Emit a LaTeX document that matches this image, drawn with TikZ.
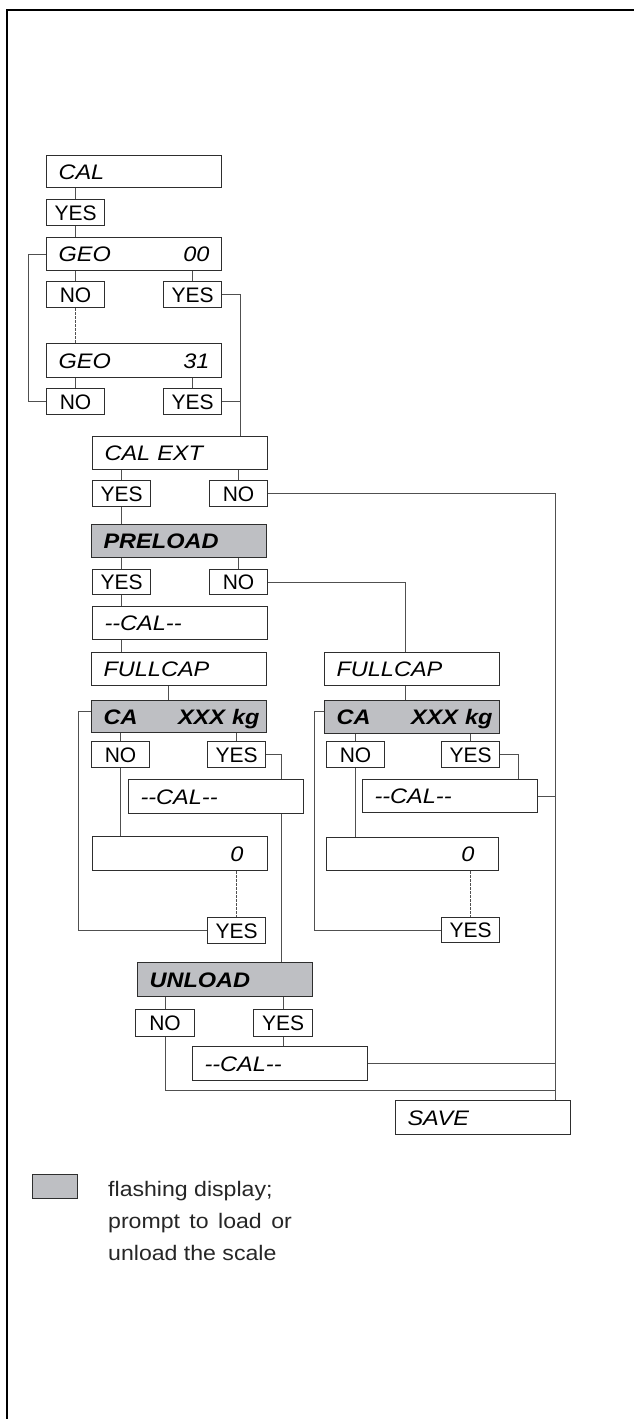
\documentclass[tikz,border=0pt]{standalone}
\usepackage{fontspec}
\setmainfont{Liberation Sans}
\newfontfamily\itfont[FakeStretch=1.12]{Liberation Sans}
\newfontfamily\legfont[FakeStretch=1.1]{Liberation Sans}
\usetikzlibrary{calc}
\definecolor{flashgray}{HTML}{BEBFC3}
\definecolor{edge}{HTML}{2E2E2E}
\definecolor{wirecol}{HTML}{505050}
\tikzset{
  disp/.style={draw=edge, line width=1.1pt, anchor=north west, inner xsep=12pt, inner ysep=0pt,
    text width=151pt, minimum height=33pt, text height=15pt, text depth=0pt, align=left,
    font=\itfont\itshape\fontsize{21}{21}\selectfont},
  flashdisp/.style={disp, fill=flashgray, font=\itfont\bfseries\itshape\fontsize{21}{21}\selectfont},
  key/.style={draw=edge, line width=1.1pt, anchor=north west, inner sep=0pt, minimum width=58pt,
    minimum height=26pt, text height=15pt, text depth=0pt, font=\fontsize{21}{21}\selectfont},
  wire/.style={draw=wirecol, line width=1pt},
  dotwire/.style={wire, dash pattern=on 2.5pt off 1.5pt},
  legtext/.style={anchor=base west, inner sep=0pt, font=\legfont\fontsize{21}{21}\selectfont, text=black!85},
}
\begin{document}
\begin{tikzpicture}[x=1pt,y=-1pt]
\useasboundingbox (0,0) rectangle (634,1419);
\fill[white] (0,0) rectangle (634,1419);
\draw[line width=2pt, black] (7,1419) -- (7,9.5) -- (634,9.5);

% left column
\node[disp, minimum height=32pt] (cal) at (46,155) {CAL};
\node[key] (yA) at (46,199) {YES};
\node[disp] (geoA) at (46,237) {GEO\hfill 00};
\node[key] (nA) at (46,281) {NO};
\node[key] (yB) at (163,281) {YES};
\node[disp, minimum height=34pt] (geoB) at (46,343) {GEO\hfill 31};
\node[key] (nB) at (46,388) {NO};
\node[key] (yC) at (163,388) {YES};
\node[disp] (calext) at (92,436) {CAL EXT};
\node[key] (yD) at (92,480) {YES};
\node[key] (nD) at (209,480) {NO};
\node[flashdisp] (pre) at (91,524) {PRELOAD};
\node[key, minimum height=25pt] (yE) at (92,569) {YES};
\node[key, minimum height=25pt] (nE) at (209,569) {NO};
\node[disp] (calA) at (92,606) {-{}-CAL-{}-};
\node[disp] (fullA) at (91,652) {FULLCAP};
\node[flashdisp, minimum height=32pt] (caA) at (91,700) {CA\hfill XXX kg\hspace*{-5pt}\null};
\node[key] (nF) at (91,741) {NO};
\node[key] (yF) at (207,741) {YES};
\node[disp, minimum height=34pt] (calB) at (128,779) {-{}-CAL-{}-};
\node[disp, minimum height=34pt] (zeroA) at (92,836) {\hfill 0\hspace*{12pt}\null};
\node[key] (yG) at (207,917) {YES};
\node[flashdisp, minimum height=34pt] (unl) at (137,962) {UNLOAD};
\node[key, minimum width=59pt, minimum height=27pt] (nH) at (135,1009) {NO};
\node[key, minimum width=59pt, minimum height=27pt] (yH) at (253,1009) {YES};
\node[disp, minimum height=34pt] (calC) at (192,1046) {-{}-CAL-{}-};
\node[disp, minimum height=34pt] (save) at (395,1100) {SAVE};

% right column
\node[disp] (fullB) at (324,652) {FULLCAP};
\node[flashdisp] (caB) at (324,700) {CA\hfill XXX kg\hspace*{-5pt}\null};
\node[key] (nI) at (326,741) {NO};
\node[key] (yI) at (441,741) {YES};
\node[disp] (calD) at (362,779) {-{}-CAL-{}-};
\node[disp, text width=148pt] (zeroB) at (326,837) {\hfill 0\hspace*{12pt}\null};
\node[key, minimum height=25pt] (yJ) at (441,917) {YES};

% connectors
\draw[wire] (cal.south -| yA) -- (yA.north);
\draw[wire] (yA.south) -- (yA.south |- geoA.north);
\draw[wire] (nA.north) -- (nA.north |- geoA.south);
\draw[wire] (yB.north) -- (yB.north |- geoA.south);
\draw[dotwire] (nA.south) -- (nA.south |- geoB.north);
\draw[wire] (nB.north) -- (nB.north |- geoB.south);
\draw[wire] (yC.north) -- (yC.north |- geoB.south);
\draw[wire] (geoA.west) -- ++(-18,0) |- (nB.west);
\draw[wire] (yB.east) -- ++(18,0) coordinate (j1) -- (j1 |- calext.north);
\draw[wire] (yC.east) -- (yC.east -| j1);

\draw[wire] (calext.south -| yD) -- (yD.north);
\draw[wire] (calext.south -| nD) -- (nD.north);
\draw[wire] (nD.east) -- ++(287,0) coordinate (rail) -- (rail |- save.north);
\draw[wire] (yD.south) -- (yD.south |- pre.north);
\draw[wire] (pre.south -| yE) -- (yE.north);
\draw[wire] (pre.south -| nE) -- (nE.north);
\coordinate (fb) at ($(fullB.north west)+(81,0)$);
\draw[wire] (nE.east) -| (fb);
\draw[wire] (yE.south) -- (yE.south |- calA.north);
\draw[wire] (calA.south -| yE) -- (yE |- fullA.north);
\draw[wire] ($(fullA.south west)+(77,0)$) -- ($(caA.north west)+(77,0)$);
\draw[wire] (caA.south -| nF) -- (nF.north);
\draw[wire] (caA.south -| yF) -- (yF.north);
\draw[wire] ($(caA.north west)+(0,11)$) -- ++(-13,0) |- (yG.west);
\draw[wire] (yF.east) -- ++(15,0) coordinate (j2) -- (j2 |- calB.north);
\draw[wire] (calB.south -| j2) -- (j2 |- unl.north);
\draw[wire] (nF.south) -- (nF.south |- zeroA.north);
\draw[dotwire] (zeroA.south -| yG) -- (yG.north);

\draw[wire] (unl.south -| nH) -- (nH.north);
\draw[wire] (unl.south -| yH) -- (yH.north);
\draw[wire] (yH.south) -- (yH.south |- calC.north);
\draw[wire] (calC.east) -- (calC.east -| rail);
\draw[wire] (nH.south) -- ++(0,53) coordinate (j3) -- (j3 -| rail);

\draw[wire] ($(fullB.south west)+(81,0)$) -- ($(caB.north west)+(81,0)$);
\draw[wire] (caB.south -| nI) -- (nI.north);
\draw[wire] (caB.south -| yI) -- (yI.north);
\draw[wire] (yI.east) -- ++(18,0) coordinate (j4) -- (j4 |- calD.north);
\draw[wire] (calD.east) -- (calD.east -| rail);
\draw[wire] (nI.south) -- (nI.south |- zeroB.north);
\draw[dotwire] (zeroB.south -| yJ) -- (yJ.north);
\draw[wire] ($(caB.north west)+(0,11)$) -- ++(-10,0) |- (yJ.west);

% legend
\node[draw=edge, line width=1.1pt, fill=flashgray, anchor=north west, minimum width=45pt, minimum height=24pt, inner sep=0pt] (legbox) at (32,1174) {};
\node[legtext] (leg1) at (108,1196) {flashing display;};
\node[legtext] (leg2) at (108,1228) {prompt\hspace{3pt} to\hspace{3pt} load\hspace{3pt} or};
\node[legtext] (leg3) at (108,1260) {unload the scale};
\end{tikzpicture}
\end{document}
